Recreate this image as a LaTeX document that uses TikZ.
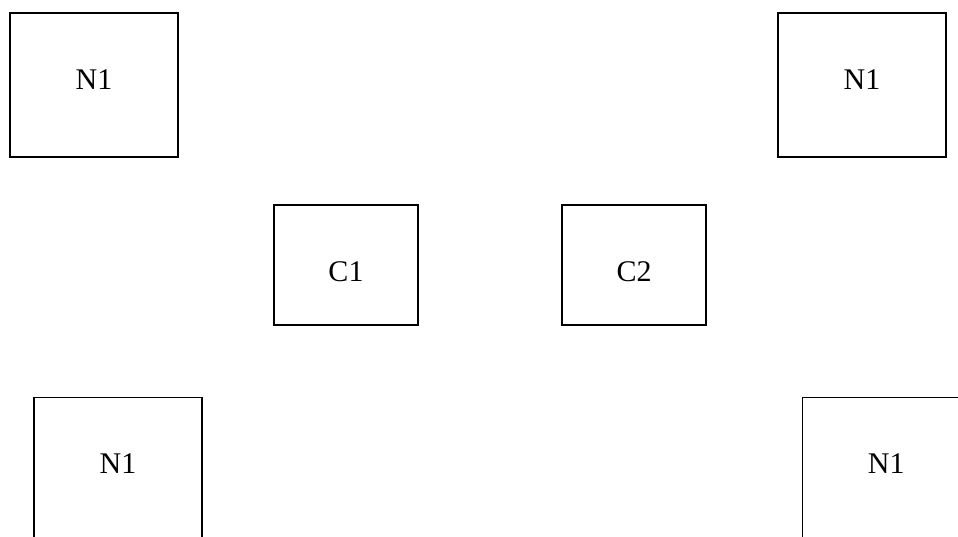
\documentclass[tikz,border=0pt]{standalone}
\usepackage{fontspec}
\setmainfont{Liberation Serif}
\begin{document}
\begin{tikzpicture}[x=1pt,y=-1pt,
  nbox/.style={draw=black, line width=1.3pt, rectangle, minimum width=168pt, minimum height=144pt, inner sep=0pt},
  cbox/.style={draw=black, line width=1.3pt, rectangle, minimum width=144pt, minimum height=120pt, inner sep=0pt},
  txt/.style={anchor=center, inner sep=0pt, yshift=-67pt, font=\fontsize{30}{32}\selectfont}]
\useasboundingbox (0,0) rectangle (958,536);
\node[nbox, label={[txt]north:N1}] (ntl) at (94,85) {};
\node[nbox, label={[txt]north:N1}] (ntr) at (862,85) {};
\node[cbox, label={[txt]north:C1}] (c1) at (346,265) {};
\node[cbox, label={[txt]north:C2}] (c2) at (634,265) {};
\node[nbox, label={[txt]north:N1}] (nbl) at (118,469.7) {};
\node[nbox, label={[txt]north:N1}] (nbr) at (886.3,469.7) {};
\end{tikzpicture}
\end{document}
